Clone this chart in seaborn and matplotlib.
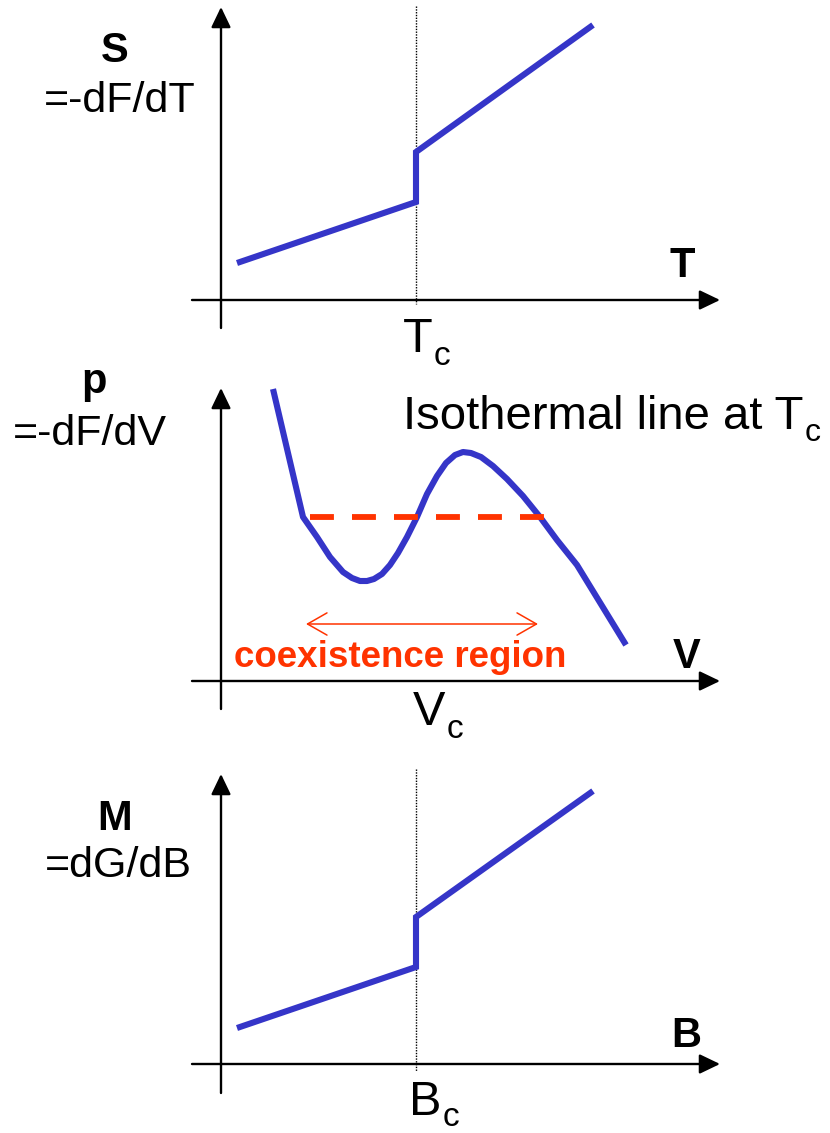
import matplotlib
matplotlib.use("Agg")
import matplotlib.pyplot as plt
import seaborn as sns

sns.set_theme(style="white")
plt.rcParams['font.family'] = ['Liberation Sans', 'DejaVu Sans']

# ---------------- data (schematic values, origin at axis crossing) ----------------
# Panel 1: entropy S vs temperature T (jump at Tc)
T_vals = [16, 195, 195, 372]
S_vals = [37, 98, 148, 275]
Tc = 195

# Panel 2: van der Waals-like isotherm p(V) at Tc
V_vals = [52, 82, 96, 109, 122, 131, 139, 146, 153, 161, 169, 177, 186, 196,
          206, 216, 225, 234, 242, 250, 260, 272, 286, 302, 319, 336, 356, 405]
p_vals = [292, 164, 144, 124, 109, 103, 100, 100, 102, 107, 116, 128, 144, 164,
          187, 205, 218, 226, 229, 228, 224, 215, 202, 185, 164, 141, 116, 36]
p_coex = 164
V_coex = [89, 324]
coex_arrow = [85, 317]
coex_arrow_y = 57

# Panel 3: magnetisation M vs field B (jump at Bc)
B_vals = [16, 195, 195, 372]
M_vals = [36, 97, 147, 273]
Bc = 195

BLUE = '#3535C8'
RED = '#FF3300'

W, H = 830, 1133
fig = plt.figure(figsize=(W / 100, H / 100), dpi=100)


def make_ax(top, bottom, ox, oy):
    ax = fig.add_axes([0, 1 - bottom / H, 1, (bottom - top) / H])
    ax.set_xlim(-ox, W - ox)
    ax.set_ylim(oy - bottom, oy - top)
    ax.axis('off')
    return ax


def draw_axes(ax, top=293, bottom=-28, left=-29, right=499):
    ap = dict(arrowstyle='-|>,head_length=1.25,head_width=0.6', lw=1.7,
              color='black', shrinkA=0, shrinkB=0, mutation_scale=10)
    ax.annotate('', xy=(0, top), xytext=(0, bottom), arrowprops=ap,
                annotation_clip=False)
    ax.annotate('', xy=(right, 0), xytext=(left, 0), arrowprops=ap,
                annotation_clip=False)


def sub_label(ax, x, y, main, sub, size=35, sub_size=24, shift=13):
    t = ax.text(x, y, main, fontsize=size, ha='left', va='baseline', color='black')
    fig.canvas.draw()
    bb = t.get_window_extent()
    inv = ax.transData.inverted()
    x_end = inv.transform((bb.x1, bb.y0))[0]
    ax.text(x_end + 1, y - shift, sub, fontsize=sub_size, ha='left',
            va='baseline', color='black')


lbl_big = dict(fontsize=30, fontweight='bold', ha='center', va='baseline', color='black')
lbl_sub = dict(fontsize=31, ha='center', va='baseline', color='black')

# ---------------- Panel 1 ----------------
ax1 = make_ax(0, 378, 221, 300)
draw_axes(ax1)
ax1.plot([Tc, Tc], [294, -4], color='black', lw=1.0, ls=(0, (1, 1.0)))
sns.lineplot(x=T_vals, y=S_vals, ax=ax1, sort=False, estimator=None,
             color=BLUE, lw=4.4, solid_joinstyle='miter', solid_capstyle='butt')
ax1.text(-106, 238, 'S', **lbl_big)
ax1.text(-101, 188, '=-dF/dT', **lbl_sub)
ax1.text(461, 23, 'T', **lbl_big)
sub_label(ax1, 182, -52, 'T', 'c')

# ---------------- Panel 2 ----------------
ax2 = make_ax(378, 756, 221, 681)
draw_axes(ax2)
sns.lineplot(x=V_vals, y=p_vals, ax=ax2, sort=False, estimator=None,
             color=BLUE, lw=4.4, solid_joinstyle='round', solid_capstyle='butt')
ax2.plot(V_coex, [p_coex, p_coex], color=RED, lw=4.2,
         dashes=(4.1, 3.1), solid_capstyle='butt', dash_capstyle='butt')
ax2.annotate('', xy=(coex_arrow[0], coex_arrow_y), xytext=(coex_arrow[1], coex_arrow_y),
             arrowprops=dict(arrowstyle='<->,head_length=1.4,head_width=0.8', lw=1.1,
                             color=RED, shrinkA=0, shrinkB=0, mutation_scale=10),
             annotation_clip=False)
ax2.text(179, 14, 'coexistence region', fontsize=26.5, fontweight='bold',
         color=RED, ha='center', va='baseline')
ax2.text(-127, 288, 'p', **lbl_big)
ax2.text(-131, 236, '=-dF/dV', **lbl_sub)
ax2.text(466, 13, 'V', **lbl_big)
sub_label(ax2, 192, -44, 'V', 'c')
sub_label(ax2, 182, 252, 'Isothermal line at T', 'c', size=34, sub_size=23, shift=12)

# ---------------- Panel 3 ----------------
ax3 = make_ax(756, 1133, 221, 1064)
draw_axes(ax3, top=290, bottom=-29)
ax3.plot([Bc, Bc], [295, -7], color='black', lw=1.0, ls=(0, (1, 1.0)))
sns.lineplot(x=B_vals, y=M_vals, ax=ax3, sort=False, estimator=None,
             color=BLUE, lw=4.4, solid_joinstyle='miter', solid_capstyle='butt')
ax3.text(-106, 234, 'M', **lbl_big)
ax3.text(-103, 187, '=dG/dB', **lbl_sub)
ax3.text(465, 17, 'B', **lbl_big)
sub_label(ax3, 188, -51, 'B', 'c', shift=11)

fig.savefig('out.png', dpi=100)
